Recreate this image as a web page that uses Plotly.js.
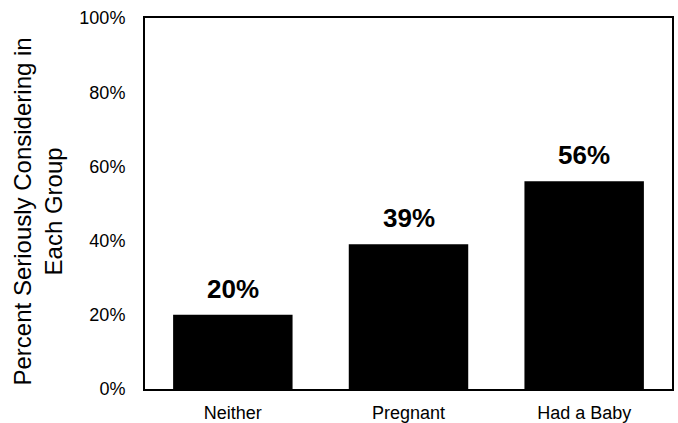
<!DOCTYPE html>
<html><head><meta charset="utf-8">
<script src="https://cdn.plot.ly/plotly-3.0.1.min.js"></script>
<style>body{margin:0;background:#fff}#c{width:678px;height:423px}</style>
</head><body><div id="c"></div>
<script>
const categories = ["Neither", "Pregnant", "Had a Baby"];
const values = [20, 39, 56];
const yTickVals = [0, 20, 40, 60, 80, 100];
const yTickText = ["0%", "20%", "40%", "60%", "80%", "100%"];
const yTitle = "Percent Seriously Considering in<br>Each Group";

const font = "Liberation Sans, Arial, sans-serif";
const trace = {
  type: "bar", x: categories, y: values,
  marker: {color: "#000", line: {width: 0}},
  hoverinfo: "none"
};
const annotations = categories.map((c, i) => ({
  x: c, y: values[i], text: "<b>" + values[i] + "%</b>",
  xref: "x", yref: "y", showarrow: false, yanchor: "bottom", yshift: 9,
  font: {family: font, size: 26, color: "#000"}
}));
annotations.push({
  xref: "paper", yref: "paper", x: 0, y: 0.5, xanchor: "center", yanchor: "middle",
  xshift: -108, yshift: -8, textangle: -90, showarrow: false,
  text: yTitle, font: {family: font, size: 24, color: "#000"}
});
const layout = {
  width: 678, height: 423,
  margin: {l: 145, r: 6, t: 18, b: 34},
  paper_bgcolor: "#fff", plot_bgcolor: "#fff",
  bargap: 0.32, showlegend: false,
  font: {family: font, color: "#000"},
  xaxis: {showline: true, mirror: true, linecolor: "#000", linewidth: 2,
    ticks: "", tickfont: {size: 18}, ticklabelstandoff: 6, showgrid: false, zeroline: false},
  yaxis: {range: [0, 100], tickvals: yTickVals, ticktext: yTickText,
    showline: true, mirror: true, linecolor: "#000", linewidth: 2,
    ticks: "", tickfont: {size: 18}, ticklabelstandoff: 14, showgrid: false, zeroline: false},
  annotations: annotations
};
Plotly.newPlot("c", [trace], layout, {staticPlot: true});
</script></body></html>
